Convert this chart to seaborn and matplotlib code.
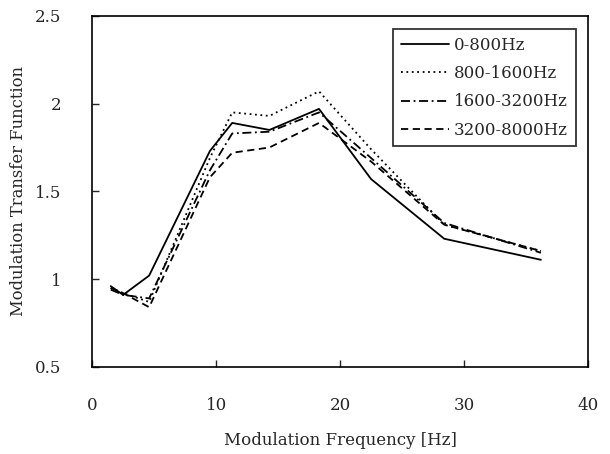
import numpy as np
import pandas as pd
import matplotlib
matplotlib.use("Agg")
import matplotlib.pyplot as plt
import seaborn as sns

# ── Data ──────────────────────────────────────────────────────────────────────
freq = [1.5, 2.5, 4.6, 9.5, 11.3, 14.3, 18.3, 22.5, 28.4, 36.2]

band_labels = ["0-800Hz", "800-1600Hz", "1600-3200Hz", "3200-8000Hz"]

mtf_0_800 = [0.96, 0.91, 1.02, 1.73, 1.89, 1.85, 1.97, 1.57, 1.23, 1.11]
mtf_800_1600 = [0.95, 0.92, 0.87, 1.69, 1.95, 1.93, 2.07, 1.74, 1.31, 1.16]
mtf_1600_3200 = [0.94, 0.91, 0.89, 1.62, 1.83, 1.84, 1.95, 1.69, 1.32, 1.15]
mtf_3200_8000 = [0.95, 0.92, 0.84, 1.58, 1.72, 1.75, 1.89, 1.67, 1.31, 1.16]

series = [mtf_0_800, mtf_800_1600, mtf_1600_3200, mtf_3200_8000]

df = pd.concat(
    [pd.DataFrame({"freq": freq, "mtf": vals, "band": lab})
     for lab, vals in zip(band_labels, series)],
    ignore_index=True,
)

# ── Plot ──────────────────────────────────────────────────────────────────────
sns.set_style("ticks")
plt.rcParams["font.family"] = ["DejaVu Serif", "DejaVu Sans"]

fig = plt.figure(figsize=(6.1, 4.54), dpi=100)
ax = fig.add_axes([0.151, 0.192, 0.813, 0.773])

dash_map = {
    "0-800Hz": "",
    "800-1600Hz": (1, 2),
    "1600-3200Hz": (5, 2, 1, 2),
    "3200-8000Hz": (4, 2.5),
}

sns.lineplot(data=df, x="freq", y="mtf", style="band", dashes=dash_map,
             color="black", linewidth=1.3, ax=ax, sort=False)

ax.set_xlim(0, 40)
ax.set_ylim(0.5, 2.5)
ax.set_xticks([0, 10, 20, 30, 40])
ax.set_yticks([0.5, 1, 1.5, 2, 2.5])
ax.set_yticklabels(["0.5", "1", "1.5", "2", "2.5"])
ax.tick_params(direction="in", length=5, width=1, labelsize=12,
               top=False, right=False)
ax.tick_params(axis="x", pad=22)
ax.tick_params(axis="y", pad=22)
for sp in ax.spines.values():
    sp.set_linewidth(1.2)
    sp.set_color("black")

ax.set_xlabel("Modulation Frequency [Hz]", fontsize=12, labelpad=13)
ax.set_ylabel("Modulation Transfer Function", fontsize=11.8, labelpad=6)

leg = ax.legend(loc="upper right", bbox_to_anchor=(0.975, 0.962),
                fontsize=12, frameon=True, fancybox=False,
                handlelength=2.9, handletextpad=0.3, labelspacing=0.68,
                borderpad=0.45, borderaxespad=0)
leg.get_frame().set_edgecolor("black")
leg.get_frame().set_linewidth(1.3)
leg.set_title(None)

fig.savefig("out.png", dpi=100)
